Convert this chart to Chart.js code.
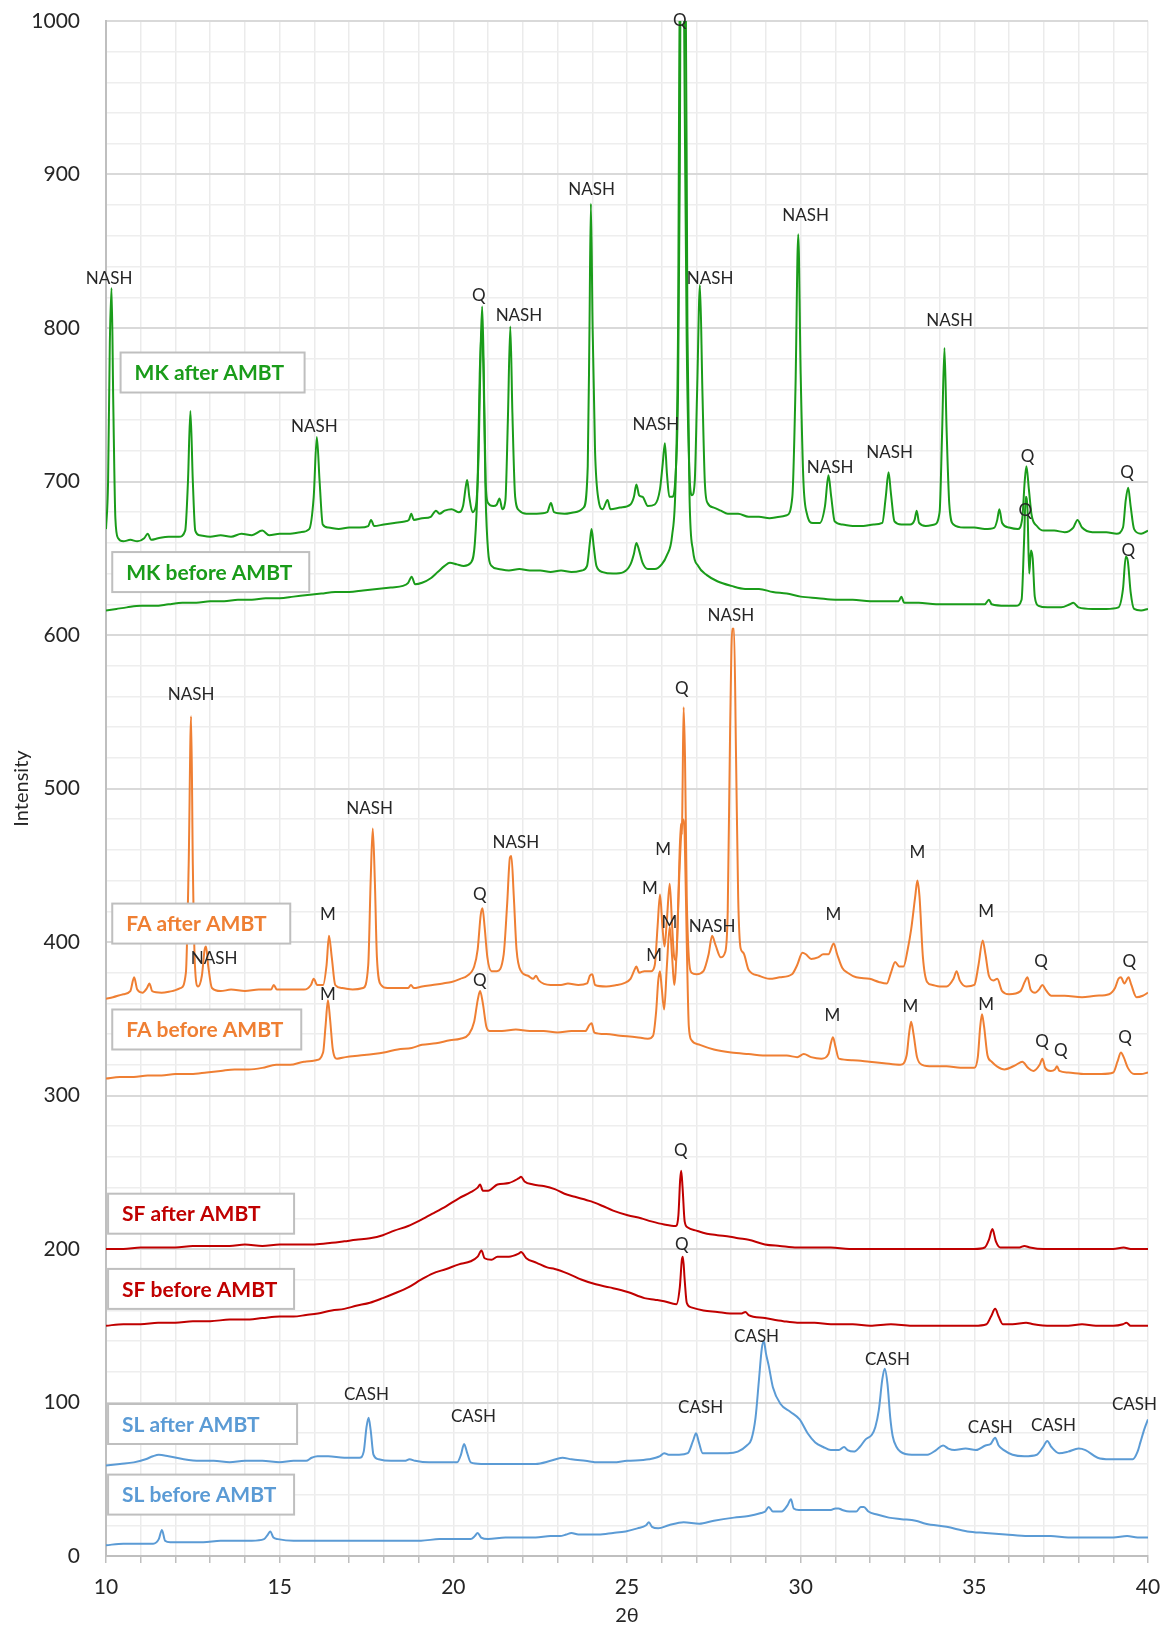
<!DOCTYPE html>
<html>
<head>
<meta charset="utf-8">
<script src="https://cdn.jsdelivr.net/npm/chart.js@4.4.1/dist/chart.umd.min.js"></script>
<style>
    html, body { margin: 0; padding: 0; background: #fff; }
</style>
</head>
<body>
<canvas id="xrdChart" width="1167" height="1628"></canvas>
<script>
// 2θ / intensity pairs
const mkAfter = [[10.0,669],[10.06,700],[10.11,790],[10.16,826],[10.21,750],[10.27,676],[10.35,663],[10.5,661],[10.7,662],[10.9,661],[11.1,663],[11.2,666],[11.3,662],[11.5,663],[11.8,664],[12.1,664],[12.28,668],[12.36,700],[12.43,746],[12.5,700],[12.57,668],[12.7,665],[13.0,664],[13.3,665],[13.6,664],[13.9,666],[14.2,665],[14.5,668],[14.7,665],[15.0,666],[15.3,666],[15.6,667],[15.85,669],[15.98,690],[16.07,729],[16.15,700],[16.24,672],[16.4,670],[16.7,669],[17.0,670],[17.3,670],[17.55,671],[17.63,675],[17.72,671],[18.0,672],[18.3,673],[18.6,674],[18.72,675],[18.79,679],[18.86,675],[19.1,676],[19.35,677],[19.5,681],[19.6,679],[19.75,681],[19.95,682],[20.15,680],[20.28,684],[20.36,697],[20.4,701],[20.46,690],[20.55,680],[20.65,684],[20.73,720],[20.79,790],[20.83,814],[20.87,780],[20.93,700],[21.0,686],[21.15,684],[21.25,685],[21.33,689],[21.41,682],[21.5,688],[21.57,740],[21.64,801],[21.7,745],[21.78,690],[21.9,681],[22.1,679],[22.4,679],[22.7,680],[22.81,686],[22.9,680],[23.2,679],[23.5,680],[23.75,683],[23.87,710],[23.92,800],[23.96,881],[24.01,800],[24.08,720],[24.18,688],[24.3,682],[24.44,688],[24.52,682],[24.8,683],[25.1,685],[25.2,690],[25.27,698],[25.35,691],[25.45,690],[25.6,684],[25.8,685],[25.95,695],[26.03,712],[26.09,725],[26.15,705],[26.22,690],[26.3,690],[26.4,705],[26.47,760],[26.52,900],[26.55,1060],[26.62,1060],[26.66,950],[26.72,790],[26.79,710],[26.87,691],[26.95,700],[27.02,760],[27.1,828],[27.17,760],[27.24,700],[27.32,686],[27.5,683],[27.7,681],[27.9,679],[28.2,679],[28.5,677],[28.8,677],[29.1,676],[29.4,677],[29.6,678],[29.76,690],[29.85,760],[29.93,861],[30.0,770],[30.08,700],[30.18,679],[30.35,673],[30.55,673],[30.7,684],[30.8,704],[30.88,690],[30.98,674],[31.2,672],[31.5,671],[31.8,671],[32.1,672],[32.35,673],[32.45,690],[32.53,706],[32.6,692],[32.7,674],[32.9,672],[33.15,672],[33.28,675],[33.34,681],[33.41,673],[33.6,671],[33.85,672],[34.0,680],[34.07,730],[34.14,787],[34.2,735],[34.28,685],[34.4,672],[34.7,670],[35.0,670],[35.3,669],[35.58,670],[35.66,675],[35.72,682],[35.8,673],[36.0,670],[36.25,669],[36.38,676],[36.45,700],[36.5,710],[36.57,695],[36.65,678],[36.8,671],[37.0,668],[37.3,668],[37.6,667],[37.85,670],[37.97,675],[38.1,670],[38.4,667],[38.8,667],[39.1,666],[39.28,670],[39.36,688],[39.43,696],[39.5,684],[39.6,669],[39.8,666],[40.0,668]];

const mkBefore = [[10.0,616],[10.3,617],[10.6,618],[11.0,619],[11.4,619],[11.8,620],[12.2,621],[12.6,621],[13.0,622],[13.4,622],[13.8,623],[14.2,623],[14.6,624],[15.0,624],[15.4,625],[15.8,626],[16.2,627],[16.6,628],[17.0,628],[17.4,629],[17.8,630],[18.2,631],[18.55,632],[18.7,634],[18.8,638],[18.9,633],[19.1,634],[19.35,637],[19.55,641],[19.75,645],[19.9,647],[20.1,646],[20.3,645],[20.5,647],[20.62,660],[20.7,700],[20.76,770],[20.82,800],[20.87,770],[20.93,690],[21.0,655],[21.1,645],[21.3,643],[21.6,642],[21.9,643],[22.2,642],[22.5,642],[22.8,641],[23.1,642],[23.4,641],[23.7,642],[23.85,645],[23.93,660],[23.98,669],[24.04,658],[24.12,645],[24.3,641],[24.6,640],[24.9,641],[25.1,646],[25.2,653],[25.27,660],[25.35,655],[25.45,647],[25.6,643],[25.8,643],[26.0,646],[26.15,652],[26.3,665],[26.4,700],[26.47,800],[26.53,1060],[26.68,1060],[26.74,800],[26.8,690],[26.9,655],[27.05,645],[27.3,639],[27.6,635],[28.0,632],[28.4,630],[28.8,630],[29.2,628],[29.6,627],[30.0,625],[30.5,624],[31.0,623],[31.5,623],[32.0,622],[32.5,622],[32.82,622],[32.9,625],[32.98,621],[33.4,621],[33.9,620],[34.4,620],[34.9,620],[35.3,620],[35.42,623],[35.5,620],[35.9,619],[36.2,619],[36.36,623],[36.43,660],[36.48,690],[36.53,682],[36.58,640],[36.63,655],[36.68,650],[36.74,625],[36.85,619],[37.1,618],[37.5,618],[37.75,620],[37.85,621],[38.0,618],[38.4,617],[38.8,617],[39.15,618],[39.28,630],[39.36,651],[39.42,648],[39.5,628],[39.6,617],[39.8,616],[40.0,617]];

const faAfter = [[10.0,363],[10.2,364],[10.5,366],[10.7,368],[10.81,377],[10.9,369],[11.05,367],[11.18,370],[11.25,373],[11.33,368],[11.6,367],[11.9,368],[12.15,370],[12.3,380],[12.38,450],[12.45,547],[12.5,450],[12.56,385],[12.65,371],[12.76,378],[12.84,395],[12.88,397],[12.94,385],[13.05,370],[13.3,368],[13.6,369],[14.0,368],[14.4,369],[14.75,369],[14.83,372],[14.92,369],[15.3,369],[15.7,369],[15.9,372],[15.98,376],[16.08,372],[16.25,372],[16.35,385],[16.42,404],[16.5,390],[16.6,372],[16.8,370],[17.1,369],[17.4,370],[17.55,385],[17.62,440],[17.68,474],[17.74,440],[17.8,390],[17.92,372],[18.1,370],[18.4,370],[18.7,370],[18.78,372],[18.86,370],[19.1,371],[19.4,372],[19.7,373],[19.95,374],[20.2,376],[20.4,378],[20.6,384],[20.7,395],[20.79,418],[20.84,422],[20.9,410],[20.98,390],[21.1,381],[21.25,381],[21.45,392],[21.55,425],[21.63,455],[21.67,456],[21.74,430],[21.82,395],[21.95,381],[22.15,378],[22.3,376],[22.38,378],[22.46,375],[22.8,372],[23.1,372],[23.3,373],[23.6,372],[23.85,373],[23.93,378],[24.0,379],[24.08,372],[24.4,371],[24.7,372],[24.9,373],[25.1,376],[25.2,381],[25.27,384],[25.35,380],[25.5,381],[25.7,381],[25.8,385],[25.88,410],[25.95,431],[26.02,410],[26.08,397],[26.15,415],[26.23,438],[26.3,410],[26.36,390],[26.42,388],[26.48,430],[26.55,477],[26.58,470],[26.6,500],[26.63,553],[26.67,520],[26.72,430],[26.78,390],[26.86,380],[27.0,379],[27.2,381],[27.35,392],[27.45,404],[27.55,398],[27.7,390],[27.82,393],[27.9,420],[27.97,540],[28.03,604],[28.08,604],[28.14,520],[28.2,430],[28.27,396],[28.35,393],[28.5,382],[28.8,378],[29.1,376],[29.4,377],[29.75,379],[29.9,385],[30.05,393],[30.15,392],[30.3,389],[30.5,390],[30.65,392],[30.8,392],[30.95,399],[31.05,392],[31.2,383],[31.35,380],[31.6,377],[31.98,376],[32.25,374],[32.48,373],[32.6,380],[32.72,387],[32.84,384],[32.96,384],[33.08,395],[33.18,408],[33.3,430],[33.36,440],[33.42,430],[33.52,390],[33.64,374],[33.8,372],[34.0,371],[34.2,371],[34.4,376],[34.49,381],[34.58,375],[34.77,371],[35.0,372],[35.12,385],[35.24,401],[35.32,392],[35.42,378],[35.55,375],[35.66,376],[35.8,368],[36.0,366],[36.33,368],[36.45,374],[36.53,377],[36.62,369],[36.75,367],[36.86,369],[36.96,372],[37.05,369],[37.22,365],[37.6,365],[38.1,364],[38.5,365],[38.88,366],[39.05,370],[39.15,376],[39.22,377],[39.32,373],[39.44,377],[39.52,372],[39.67,364],[39.85,365],[40.0,367]];

const faBefore = [[10.0,311],[10.4,312],[10.8,312],[11.2,313],[11.6,313],[12.0,314],[12.45,314],[12.9,315],[13.3,316],[13.7,317],[14.1,317],[14.5,318],[14.9,320],[15.3,320],[15.7,322],[16.05,323],[16.25,328],[16.32,345],[16.39,362],[16.45,350],[16.53,330],[16.65,324],[16.9,325],[17.3,326],[17.7,327],[18.0,328],[18.4,330],[18.8,331],[19.1,333],[19.5,334],[19.9,336],[20.2,337],[20.45,340],[20.6,348],[20.7,362],[20.77,368],[20.85,360],[20.95,345],[21.05,342],[21.4,342],[21.8,343],[22.2,342],[22.6,342],[23.0,341],[23.4,342],[23.8,342],[23.92,346],[23.98,347],[24.06,341],[24.4,340],[24.8,339],[25.27,338],[25.6,337],[25.75,339],[25.84,355],[25.9,375],[25.95,381],[26.0,370],[26.07,356],[26.15,385],[26.23,410],[26.3,390],[26.36,372],[26.44,400],[26.5,440],[26.56,470],[26.61,480],[26.66,470],[26.72,400],[26.78,345],[26.86,336],[27.1,333],[27.5,330],[28.0,328],[28.5,327],[29.08,326],[29.6,326],[29.9,325],[30.09,327],[30.3,325],[30.6,324],[30.8,327],[30.87,334],[30.93,338],[31.0,332],[31.1,324],[31.5,323],[31.98,322],[32.4,321],[32.87,320],[33.05,326],[33.12,340],[33.18,348],[33.25,340],[33.35,325],[33.5,320],[33.8,319],[34.2,319],[34.6,318],[35.0,318],[35.1,325],[35.17,345],[35.22,353],[35.28,345],[35.38,326],[35.5,322],[35.65,319],[35.87,317],[36.2,320],[36.38,322],[36.55,318],[36.7,316],[36.88,320],[36.96,324],[37.04,318],[37.2,316],[37.32,317],[37.38,319],[37.45,316],[37.7,315],[38.2,314],[38.66,314],[39.0,315],[39.12,322],[39.22,328],[39.3,325],[39.42,318],[39.6,314],[39.8,314],[40.0,315]];

const sfAfter = [[10.0,200],[10.5,200],[11.0,201],[11.5,201],[12.0,201],[12.5,202],[13.0,202],[13.56,202],[14.0,203],[14.5,202],[15.0,203],[15.5,203],[16.0,203],[16.5,204],[16.86,205],[17.2,206],[17.6,207],[17.97,209],[18.3,212],[18.7,215],[19.07,219],[19.4,223],[19.8,228],[20.16,233],[20.5,237],[20.7,240],[20.77,242],[20.85,238],[21.0,238],[21.27,242],[21.6,243],[21.88,246],[21.95,247],[22.05,244],[22.3,242],[22.6,241],[22.92,239],[23.2,236],[23.5,234],[23.97,231],[24.3,228],[24.6,225],[25.02,222],[25.4,220],[25.7,218],[26.07,216],[26.4,215],[26.48,222],[26.53,245],[26.56,251],[26.6,240],[26.66,218],[26.75,214],[27.0,212],[27.3,210],[27.6,209],[27.97,208],[28.2,207],[28.5,206],[28.97,203],[29.4,202],[29.9,201],[30.4,201],[30.87,201],[31.4,200],[32.0,200],[32.54,200],[33.0,200],[33.5,200],[34.0,200],[34.5,200],[35.0,200],[35.3,201],[35.42,206],[35.52,213],[35.62,205],[35.75,201],[36.0,201],[36.3,201],[36.44,202],[36.6,201],[37.0,200],[37.5,200],[38.0,200],[38.5,200],[39.0,200],[39.3,201],[39.5,200],[40.0,200]];

const sfBefore = [[10.0,150],[10.5,151],[11.0,151],[11.5,152],[12.0,152],[12.5,153],[13.0,153],[13.56,154],[14.0,154],[14.5,155],[15.0,156],[15.4,156],[15.76,157],[16.1,158],[16.5,160],[16.86,161],[17.2,163],[17.6,165],[17.97,168],[18.3,171],[18.7,175],[19.07,180],[19.4,184],[19.8,187],[20.16,190],[20.5,192],[20.7,195],[20.81,199],[20.9,194],[21.1,193],[21.27,195],[21.6,195],[21.88,197],[21.95,198],[22.1,194],[22.4,191],[22.7,188],[22.92,187],[23.3,184],[23.7,180],[24.1,177],[24.5,175],[25.02,172],[25.5,168],[25.8,167],[26.07,166],[26.42,164],[26.52,175],[26.58,193],[26.61,195],[26.66,180],[26.72,165],[26.85,162],[27.2,160],[27.6,159],[27.97,158],[28.3,158],[28.41,159],[28.5,157],[28.97,155],[29.5,153],[29.9,152],[30.4,152],[30.87,151],[31.5,151],[32.0,150],[32.6,151],[33.2,150],[33.7,150],[34.2,150],[34.7,150],[35.0,150],[35.35,151],[35.48,156],[35.6,161],[35.7,156],[35.82,151],[36.1,151],[36.49,152],[36.7,151],[37.2,150],[37.7,150],[38.1,151],[38.5,150],[39.0,150],[39.28,151],[39.38,152],[39.5,150],[40.0,150]];

const slAfter = [[10.0,59],[10.4,60],[10.8,61],[11.14,63],[11.35,65],[11.52,66],[11.8,65],[12.24,63],[12.7,62],[13.1,62],[13.56,61],[14.0,62],[14.5,62],[15.0,61],[15.4,62],[15.76,62],[15.92,64],[16.09,65],[16.4,65],[16.86,64],[17.3,64],[17.42,68],[17.5,84],[17.56,90],[17.62,82],[17.7,66],[17.85,63],[18.2,62],[18.6,62],[18.74,63],[18.9,62],[19.3,61],[19.6,61],[20.11,61],[20.22,66],[20.31,73],[20.4,67],[20.5,61],[20.8,60],[21.2,60],[21.7,60],[22.37,60],[22.8,62],[23.14,64],[23.4,63],[23.8,62],[24.18,61],[24.6,61],[25.0,62],[25.63,63],[25.95,65],[26.07,67],[26.2,66],[26.5,66],[26.75,67],[26.9,75],[26.99,80],[27.07,74],[27.18,67],[27.5,67],[27.9,67],[28.19,68],[28.45,72],[28.58,76],[28.7,90],[28.8,115],[28.88,135],[28.94,140],[29.0,132],[29.08,124],[29.2,110],[29.42,99],[29.7,94],[29.97,89],[30.2,80],[30.42,74],[30.65,71],[30.87,69],[31.1,69],[31.25,71],[31.35,69],[31.53,68],[31.7,71],[31.87,76],[32.05,79],[32.15,84],[32.25,95],[32.35,115],[32.42,122],[32.5,112],[32.58,90],[32.65,78],[32.76,71],[32.87,68],[33.2,66],[33.65,66],[33.9,69],[34.1,72],[34.25,70],[34.43,69],[34.75,70],[35.04,69],[35.32,72],[35.47,73],[35.6,77],[35.7,72],[35.85,69],[36.1,66],[36.44,65],[36.8,66],[36.98,71],[37.1,75],[37.22,71],[37.44,67],[37.7,68],[38.0,70],[38.2,69],[38.55,64],[38.9,63],[39.2,63],[39.56,63],[39.7,68],[39.78,74],[39.9,83],[40.0,89]];

const slBefore = [[10.0,7],[10.5,8],[11.0,8],[11.36,8],[11.52,11],[11.61,17],[11.7,10],[11.85,9],[12.3,9],[12.8,9],[13.3,10],[13.8,10],[14.2,10],[14.55,11],[14.66,14],[14.73,16],[14.82,12],[14.95,11],[15.4,10],[15.9,10],[16.4,10],[16.86,10],[17.4,10],[17.9,10],[18.4,10],[19.07,10],[19.6,11],[20.1,11],[20.5,11],[20.62,13],[20.7,15],[20.8,12],[21.0,11],[21.5,12],[21.9,12],[22.37,12],[22.8,13],[23.07,13],[23.25,14],[23.4,15],[23.6,14],[24.18,14],[24.6,15],[24.96,16],[25.3,18],[25.55,20],[25.63,22],[25.72,19],[25.9,18],[26.2,20],[26.63,22],[27.08,21],[27.5,23],[28.08,25],[28.5,26],[28.86,28],[28.98,29],[29.08,32],[29.2,29],[29.45,29],[29.62,33],[29.72,37],[29.8,31],[29.95,30],[30.3,30],[30.6,30],[30.87,30],[31.0,31],[31.09,31],[31.2,30],[31.4,29],[31.6,29],[31.73,32],[31.82,32],[31.95,29],[32.2,27],[32.54,25],[32.9,24],[33.31,23],[33.6,21],[34.2,19],[34.8,16],[35.32,15],[35.9,14],[36.55,13],[37.2,13],[37.7,12],[38.1,12],[38.6,12],[39.0,12],[39.4,13],[39.7,12],[40.0,12]];

// phase labels: text, 2θ, intensity
const peakLabels = [
    ["NASH", 10.09, 832], ["NASH", 16.0, 736], ["Q", 20.73, 821], ["NASH", 21.89, 808],
    ["NASH", 23.98, 890], ["NASH", 25.83, 737], ["Q", 26.52, 1000], ["NASH", 27.39, 832],
    ["NASH", 30.14, 873], ["NASH", 30.85, 709], ["NASH", 32.56, 719], ["NASH", 34.29, 805],
    ["Q", 36.53, 716], ["Q", 39.4, 706], ["Q", 36.47, 681], ["Q", 39.43, 655],
    ["NASH", 12.45, 561], ["NASH", 13.11, 389], ["M", 16.39, 418], ["NASH", 17.59, 487],
    ["Q", 20.76, 431], ["NASH", 21.8, 465], ["M", 26.04, 460], ["Q", 26.58, 565],
    ["M", 25.66, 435], ["M", 26.22, 413], ["NASH", 27.45, 410], ["NASH", 27.99, 613],
    ["M", 30.94, 418], ["M", 33.36, 458], ["M", 35.34, 420], ["Q", 36.92, 387], ["Q", 39.46, 387],
    ["M", 16.39, 366], ["Q", 20.76, 375], ["M", 25.78, 391], ["M", 30.91, 352],
    ["M", 33.16, 358], ["M", 35.34, 359], ["Q", 36.95, 335], ["Q", 37.49, 329], ["Q", 39.34, 338],
    ["Q", 26.55, 264], ["Q", 26.58, 203],
    ["CASH", 17.5, 105], ["CASH", 20.58, 91], ["CASH", 27.12, 97], ["CASH", 28.73, 143],
    ["CASH", 32.5, 128], ["CASH", 35.46, 84], ["CASH", 37.28, 85], ["CASH", 39.61, 99]
];

const seriesNames = ["MK after AMBT", "MK before AMBT", "FA after AMBT", "FA before AMBT",
    "SF after AMBT", "SF before AMBT", "SL after AMBT", "SL before AMBT"];
const seriesData = [mkAfter, mkBefore, faAfter, faBefore, sfAfter, sfBefore, slAfter, slBefore];
const seriesColors = ["#1a9c1a", "#1a9c1a", "#ef7f33", "#ef7f33", "#c00000", "#c00000", "#5b9bd5", "#5b9bd5"];

// name boxes: left 2θ, centre intensity, box width in px
const nameBoxes = [[10.42, 771, 184], [10.18, 641, 197], [10.18, 412, 178], [10.18, 343, 189],
    [10.06, 223, 186], [10.06, 174, 186], [10.06, 86, 189], [10.06, 40, 186]];

const FONT = "Lato, 'Open Sans', sans-serif";

const annotationPlugin = {
    id: "xrdAnnotations",
    afterDatasetsDraw(chart) {
        const ctx = chart.ctx;
        const x = chart.scales.x;
        const y = chart.scales.y;
        ctx.save();

        ctx.font = "17px " + FONT;
        ctx.fillStyle = "#262626";
        ctx.textAlign = "center";
        ctx.textBaseline = "middle";
        peakLabels.forEach(([text, tx, ty]) => {
            ctx.fillText(text, x.getPixelForValue(tx), y.getPixelForValue(ty));
        });

        ctx.font = "bold 21px " + FONT;
        ctx.textAlign = "left";
        nameBoxes.forEach(([bx, by, bw], i) => {
            const left = x.getPixelForValue(bx);
            const mid = y.getPixelForValue(by);
            ctx.fillStyle = "#fff";
            ctx.fillRect(left, mid - 20, bw, 40);
            ctx.strokeStyle = "#bfbfbf";
            ctx.lineWidth = 2;
            ctx.strokeRect(left, mid - 20, bw, 40);
            ctx.fillStyle = seriesColors[i];
            ctx.fillText(seriesNames[i], left + 14, mid + 1);
        });
        ctx.restore();
    }
};

new Chart(document.getElementById("xrdChart").getContext("2d"), {
    type: "line",
    data: {
        datasets: seriesData.map((pts, i) => ({
            label: seriesNames[i],
            data: pts.map(p => ({ x: p[0], y: p[1] })),
            borderColor: seriesColors[i],
            borderWidth: 2,
            pointRadius: 0,
            fill: false,
            cubicInterpolationMode: "monotone"
        }))
    },
    options: {
        responsive: false,
        animation: false,
        layout: { padding: { top: 21, right: 19, left: 0, bottom: 0 } },
        plugins: {
            legend: { display: false },
            tooltip: { enabled: false }
        },
        scales: {
            x: {
                type: "linear",
                min: 10,
                max: 40,
                afterFit(scale) {
                    scale.height = 72;
                    scale.paddingLeft = 0;
                    scale.paddingRight = 0;
                },
                border: { color: "#bfbfbf", width: 2 },
                grid: {
                    color: "#ebebeb",
                    lineWidth: 1.5,
                    tickColor: "#bfbfbf",
                    tickLength: 7,
                    tickWidth: 1.5
                },
                ticks: {
                    stepSize: 1,
                    autoSkip: false,
                    maxRotation: 0,
                    padding: 12,
                    color: "#262626",
                    font: { family: FONT, size: 21 },
                    callback(value) {
                        return value % 5 === 0 ? value : "";
                    }
                },
                title: {
                    display: true,
                    text: "2θ",
                    color: "#262626",
                    font: { family: FONT, size: 20 },
                    padding: { top: 0, bottom: 0 }
                }
            },
            y: {
                min: 0,
                max: 1000,
                afterFit(scale) {
                    scale.width = 106;
                    scale.paddingTop = 0;
                    scale.paddingBottom = 0;
                },
                border: { color: "#bfbfbf", width: 2 },
                grid: {
                    drawTicks: false,
                    color(c) {
                        return c.tick && c.tick.value % 100 === 0 ? "#d9d9d9" : "#eeeeee";
                    },
                    lineWidth(c) {
                        return c.tick && c.tick.value % 100 === 0 ? 2 : 1.5;
                    }
                },
                ticks: {
                    stepSize: 20,
                    autoSkip: false,
                    padding: 26,
                    color: "#262626",
                    font: { family: FONT, size: 21 },
                    callback(value) {
                        return value % 100 === 0 ? value : "";
                    }
                },
                title: {
                    display: true,
                    text: "Intensity",
                    color: "#262626",
                    font: { family: FONT, size: 20 },
                    padding: { top: 10, bottom: 0 }
                }
            }
        }
    },
    plugins: [annotationPlugin]
});
</script>
</body>
</html>
